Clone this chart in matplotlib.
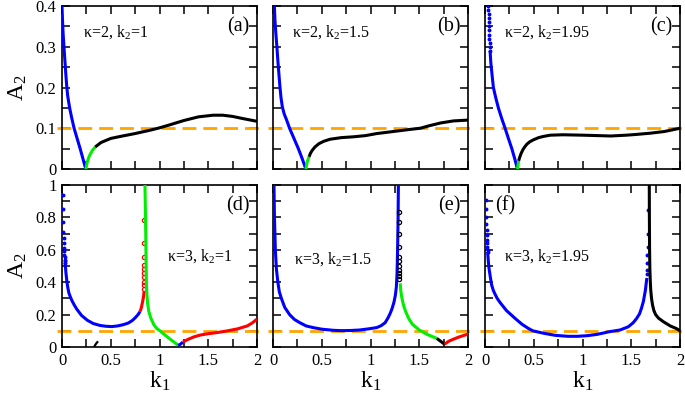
import matplotlib
matplotlib.use("Agg")
import matplotlib.pyplot as plt
from matplotlib.ticker import MultipleLocator

plt.rcParams['font.family'] = ['Liberation Serif', 'DejaVu Serif']
plt.rcParams['mathtext.fontset'] = 'custom'
plt.rcParams['mathtext.rm'] = 'Liberation Serif'
plt.rcParams['mathtext.it'] = 'Liberation Serif:italic'

BLUE = '#0000ff'
GREEN = '#00ee00'
RED = '#ff0000'
BLACK = '#000000'
ORANGE = '#ffa500'

threshold = 0.1
xticks = [0, 0.5, 1, 1.5, 2]
xticklabels = ['0', '0.5', '1', '1.5', '2']
top_yticks = [0, 0.1, 0.2, 0.3, 0.4]
top_yticklabels = ['0', '0.1', '0.2', '0.3', '0.4']
bot_yticks = [0, 0.2, 0.4, 0.6, 0.8, 1.0]
bot_yticklabels = ['0', '0.2', '0.4', '0.6', '0.8', '1']
panel_letters = ['(a)', '(b)', '(c)', '(d)', '(e)', '(f)']
panel_params = [r'κ=2, k$_2$=1', r'κ=2, k$_2$=1.5', r'κ=2, k$_2$=1.95',
                r'κ=3, k$_2$=1', r'κ=3, k$_2$=1.5', r'κ=3, k$_2$=1.95']

# ---- panel (a): kappa=2, k2=1
a_blue_k = [0.0, 0.006, 0.012, 0.02, 0.03, 0.04, 0.048, 0.058, 0.068, 0.08, 0.1, 0.124, 0.155, 0.186, 0.215, 0.244]
a_blue_A = [0.40, 0.36, 0.33, 0.30, 0.265, 0.23, 0.205, 0.18, 0.165, 0.148, 0.125, 0.10, 0.075, 0.05, 0.025, 0.0]
a_green_k = [0.244, 0.26, 0.28, 0.31, 0.34]
a_green_A = [0.0, 0.018, 0.032, 0.045, 0.054]
a_black_k = [0.34, 0.4, 0.5, 0.6, 0.75, 0.9, 1.0, 1.1, 1.25, 1.4, 1.55, 1.65, 1.75, 1.85, 2.0]
a_black_A = [0.054, 0.065, 0.075, 0.08, 0.087, 0.095, 0.101, 0.108, 0.119, 0.128, 0.132, 0.132, 0.129, 0.124, 0.117]

# ---- panel (b): kappa=2, k2=1.5
b_blue_k = [0.014, 0.02, 0.03, 0.04, 0.05, 0.06, 0.07, 0.082, 0.096, 0.115, 0.14, 0.17, 0.215, 0.26, 0.30, 0.337]
b_blue_A = [0.40, 0.365, 0.33, 0.30, 0.265, 0.235, 0.205, 0.175, 0.152, 0.135, 0.12, 0.10, 0.075, 0.05, 0.025, 0.0]
b_green_k = [0.337, 0.35, 0.37]
b_green_A = [0.0, 0.017, 0.03]
b_black_k = [0.37, 0.385, 0.40, 0.43, 0.47, 0.52, 0.585, 0.7, 0.825, 0.95, 1.065, 1.2, 1.3, 1.4, 1.51, 1.6, 1.72, 1.85, 2.0]
b_black_A = [0.03, 0.039, 0.045, 0.054, 0.062, 0.068, 0.073, 0.077, 0.079, 0.082, 0.087, 0.091, 0.094, 0.097, 0.100, 0.106, 0.113, 0.118, 0.12]

# ---- panel (c): kappa=2, k2=1.95
c_bdots_k = [0.034, 0.035, 0.036, 0.037, 0.038, 0.040, 0.042, 0.044, 0.046, 0.048, 0.050, 0.052]
c_bdots_A = [0.40, 0.39, 0.38, 0.37, 0.36, 0.35, 0.34, 0.33, 0.32, 0.31, 0.30, 0.29]
c_blue_k = [0.052, 0.06, 0.075, 0.086, 0.11, 0.137, 0.17, 0.206, 0.24, 0.275, 0.305, 0.333]
c_blue_A = [0.29, 0.26, 0.225, 0.20, 0.175, 0.15, 0.125, 0.10, 0.075, 0.05, 0.025, 0.0]
c_green_k = [0.333, 0.34, 0.345]
c_green_A = [0.0, 0.012, 0.02]
c_black_k = [0.345, 0.355, 0.37, 0.39, 0.41, 0.43, 0.46, 0.5, 0.55, 0.6, 0.67, 0.8, 1.0, 1.15, 1.29, 1.45, 1.56, 1.7, 1.84, 2.0]
c_black_A = [0.02, 0.028, 0.038, 0.048, 0.055, 0.061, 0.067, 0.072, 0.077, 0.080, 0.083, 0.084, 0.083, 0.082, 0.081, 0.083, 0.085, 0.088, 0.092, 0.1]

# ---- panel (d): kappa=3, k2=1
d_bdots_k = [0.008, 0.010, 0.012, 0.014, 0.016, 0.018, 0.020, 0.022, 0.024, 0.026, 0.028, 0.030, 0.032]
d_bdots_A = [0.94, 0.85, 0.77, 0.71, 0.67, 0.64, 0.61, 0.59, 0.57, 0.555, 0.54, 0.53, 0.52]
d_blue_k = [0.032, 0.04, 0.051, 0.06, 0.07, 0.085, 0.103, 0.125, 0.15, 0.2, 0.26, 0.32, 0.39, 0.45, 0.51, 0.57, 0.63, 0.68, 0.72, 0.75, 0.78, 0.80]
d_blue_A = [0.52, 0.46, 0.40, 0.365, 0.335, 0.31, 0.285, 0.26, 0.235, 0.195, 0.165, 0.145, 0.133, 0.128, 0.126, 0.13, 0.138, 0.148, 0.163, 0.18, 0.20, 0.218]
d_red_k = [0.80, 0.81, 0.82, 0.83, 0.837, 0.841]
d_red_A = [0.218, 0.235, 0.26, 0.29, 0.315, 0.34]
d_rdots_k = [0.841, 0.841, 0.841, 0.841, 0.841, 0.841, 0.841, 0.841, 0.841, 0.841]
d_rdots_A = [0.36, 0.38, 0.40, 0.43, 0.455, 0.48, 0.506, 0.557, 0.64, 0.784]
d_green_k = [0.851, 0.855, 0.859, 0.862, 0.865, 0.87, 0.878, 0.89, 0.91, 0.94, 0.97, 1.005, 1.06, 1.11, 1.15, 1.19]
d_green_A = [1.0, 0.85, 0.7, 0.55, 0.40, 0.33, 0.27, 0.22, 0.18, 0.14, 0.115, 0.10, 0.072, 0.048, 0.03, 0.01]
d_blue2_k = [1.19, 1.21, 1.24]
d_blue2_A = [0.01, 0.015, 0.03]
d_red2_k = [1.24, 1.285, 1.35, 1.42, 1.5, 1.6, 1.7, 1.8, 1.9, 1.95, 2.0]
d_red2_A = [0.03, 0.045, 0.062, 0.074, 0.082, 0.09, 0.1, 0.112, 0.13, 0.148, 0.172]
d_black_k = [0.33, 0.34, 0.355, 0.37]
d_black_A = [0.0, 0.012, 0.025, 0.035]

# ---- panel (e): kappa=3, k2=1.5
e_blue_k = [0.01, 0.015, 0.024, 0.035, 0.05, 0.065, 0.086, 0.12, 0.17, 0.22, 0.275, 0.34, 0.41, 0.5, 0.62, 0.7, 0.8,
            0.89, 0.98, 1.065, 1.11, 1.15, 1.18, 1.2, 1.22, 1.24, 1.255, 1.265, 1.272, 1.278, 1.283, 1.286]
e_blue_A = [1.0, 0.8, 0.6, 0.48, 0.4, 0.34, 0.3, 0.245, 0.2, 0.17, 0.15, 0.13, 0.12, 0.11, 0.103, 0.101, 0.102,
            0.105, 0.112, 0.12, 0.132, 0.15, 0.18, 0.205, 0.235, 0.275, 0.32, 0.37, 0.45, 0.6, 0.8, 1.0]
e_kdots_k = [1.295, 1.295, 1.295, 1.295, 1.295, 1.295, 1.295, 1.295, 1.295, 1.295, 1.295]
e_kdots_A = [0.42, 0.44, 0.455, 0.475, 0.502, 0.53, 0.557, 0.619, 0.695, 0.77, 0.835]
e_green_k = [1.305, 1.31, 1.32, 1.33, 1.345, 1.36, 1.388, 1.43, 1.5, 1.58, 1.68]
e_green_A = [0.393, 0.35, 0.31, 0.28, 0.245, 0.22, 0.18, 0.14, 0.105, 0.078, 0.053]
e_black_k = [1.68, 1.72, 1.76]
e_black_A = [0.053, 0.035, 0.017]
e_red_k = [1.76, 1.8, 1.85, 1.9, 1.95, 2.0]
e_red_A = [0.017, 0.035, 0.048, 0.06, 0.07, 0.08]

# ---- panel (f): kappa=3, k2=1.95
f_bdots_k = [0.008, 0.010, 0.012, 0.014, 0.016, 0.018, 0.020, 0.022, 0.024, 0.026, 0.027]
f_bdots_A = [0.907, 0.85, 0.80, 0.76, 0.72, 0.69, 0.66, 0.64, 0.62, 0.60, 0.587]
f_blue_k = [0.027, 0.034, 0.041, 0.055, 0.068, 0.085, 0.1, 0.125, 0.154, 0.22, 0.308, 0.38, 0.444, 0.49, 0.6, 0.72, 0.85, 0.95,
            1.05, 1.15, 1.28, 1.385, 1.47, 1.52, 1.556, 1.585, 1.605, 1.624, 1.645, 1.66]
f_blue_A = [0.587, 0.53, 0.486, 0.43, 0.383, 0.35, 0.33, 0.30, 0.275, 0.225, 0.177, 0.14, 0.115, 0.1, 0.085, 0.072, 0.066, 0.066,
            0.07, 0.078, 0.095, 0.105, 0.125, 0.15, 0.177, 0.205, 0.24, 0.28, 0.35, 0.426]
f_bdots2_k = [1.662, 1.664, 1.665, 1.666, 1.667, 1.668, 1.668]
f_bdots2_A = [0.45, 0.477, 0.518, 0.565, 0.62, 0.70, 0.846]
f_black_k = [1.685, 1.686, 1.688, 1.691, 1.695, 1.70, 1.708, 1.718, 1.732, 1.75, 1.78, 1.83, 1.9, 1.966, 2.0]
f_black_A = [1.0, 0.8, 0.6, 0.48, 0.41, 0.35, 0.30, 0.26, 0.225, 0.2, 0.178, 0.156, 0.13, 0.113, 0.1]

W, H = 685, 401
fig = plt.figure(figsize=(W / 100, H / 100), dpi=100)
lefts = [62, 273, 485]
width = 195
rows = [(6, 169), (185, 347)]

axes = []
for r, (ytop, ybot) in enumerate(rows):
    for c, lx in enumerate(lefts):
        ax = fig.add_axes([lx / W, 1 - ybot / H, width / W, (ybot - ytop) / H])
        axes.append(ax)

LW = 2.2

def line(ax, k, A, color, lw=LW):
    ax.plot(k, A, color=color, lw=lw, solid_capstyle='butt', solid_joinstyle='round', zorder=3)

def dots(ax, k, A, color, ms=2.2):
    ax.plot(k, A, ls='none', marker='o', ms=ms, color=color, mec=color, zorder=3)

def circles(ax, k, A, color):
    ax.plot(k, A, ls='none', marker='o', ms=3, mfc='none', mec=color, mew=0.9, zorder=3)

ax = axes[0]
line(ax, a_blue_k, a_blue_A, BLUE); line(ax, a_green_k, a_green_A, GREEN); line(ax, a_black_k, a_black_A, BLACK)
ax = axes[1]
line(ax, b_blue_k, b_blue_A, BLUE); line(ax, b_green_k, b_green_A, GREEN); line(ax, b_black_k, b_black_A, BLACK)
ax = axes[2]
dots(ax, c_bdots_k, c_bdots_A, BLUE, ms=1.8)
line(ax, c_blue_k, c_blue_A, BLUE); line(ax, c_green_k, c_green_A, GREEN); line(ax, c_black_k, c_black_A, BLACK)
ax = axes[3]
dots(ax, d_bdots_k, d_bdots_A, BLUE, ms=1.8)
line(ax, d_blue_k, d_blue_A, BLUE); line(ax, d_red_k, d_red_A, RED)
circles(ax, d_rdots_k, d_rdots_A, RED)
line(ax, d_green_k, d_green_A, GREEN); line(ax, d_blue2_k, d_blue2_A, BLUE)
line(ax, d_red2_k, d_red2_A, RED); line(ax, d_black_k, d_black_A, BLACK, lw=1.6)
ax = axes[4]
line(ax, e_blue_k, e_blue_A, BLUE)
circles(ax, e_kdots_k, e_kdots_A, BLACK)
line(ax, e_green_k, e_green_A, GREEN); line(ax, e_black_k, e_black_A, BLACK); line(ax, e_red_k, e_red_A, RED)
ax = axes[5]
dots(ax, f_bdots_k, f_bdots_A, BLUE, ms=1.8)
line(ax, f_blue_k, f_blue_A, BLUE)
dots(ax, f_bdots2_k, f_bdots2_A, BLUE, ms=1.8)
line(ax, f_black_k, f_black_A, BLACK)

param_pos = [(0.11, 0.84), (0.10, 0.84), (0.10, 0.84), (0.54, 0.56), (0.11, 0.54), (0.10, 0.56)]
letter_pos = [(0.96, 0.87, 'right'), (0.96, 0.87, 'right'), (0.96, 0.87, 'right'),
              (0.96, 0.87, 'right'), (0.96, 0.87, 'right'), (0.05, 0.87, 'left')]

for i, ax in enumerate(axes):
    top = i < 3
    ax.plot([-0.05, 2.05], [threshold, threshold], color=ORANGE, lw=2.0, dashes=(5, 2.5), zorder=2, clip_on=False)
    ax.set_xlim(0, 2)
    ax.set_xticks(xticks)
    ax.xaxis.set_minor_locator(MultipleLocator(0.25))
    if top:
        ax.set_ylim(0, 0.4)
        ax.set_yticks(top_yticks)
        ax.yaxis.set_minor_locator(MultipleLocator(0.05))
    else:
        ax.set_ylim(0, 1)
        ax.set_yticks(bot_yticks)
        ax.yaxis.set_minor_locator(MultipleLocator(0.1))
    ax.tick_params(which='both', direction='in', top=True, right=True, length=6, width=1.1,
                   labelsize=12, pad=4)
    if top:
        ax.set_xticklabels([])
    else:
        ax.set_xticklabels(xticklabels)
        ax.set_xlabel(r'k$_1$', fontsize=17, labelpad=1)
    if i % 3 == 0:
        ax.set_yticklabels(top_yticklabels if top else bot_yticklabels)
        ax.set_ylabel(r'A$_2$', fontsize=17, labelpad=5)
    else:
        ax.set_yticklabels([])
    for s in ax.spines.values():
        s.set_linewidth(1.2)
    px, py = param_pos[i]
    ax.text(px, py, panel_params[i], transform=ax.transAxes, fontsize=11.5, ha='left', va='center')
    lx, ly, ha = letter_pos[i]
    ax.text(lx, ly, panel_letters[i], transform=ax.transAxes, fontsize=14.5, ha=ha, va='center')

fig.savefig('out.png', dpi=100)
